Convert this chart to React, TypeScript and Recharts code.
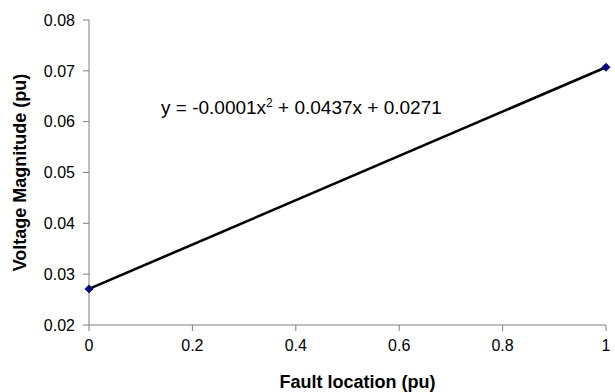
import { Line, LineChart, XAxis, YAxis } from "recharts";

const faultLocation = [0, 1];
const voltageMagnitude = [0.0271, 0.0707];
const xTicks = [0, 0.2, 0.4, 0.6, 0.8, 1];
const yTicks = [0.02, 0.03, 0.04, 0.05, 0.06, 0.07, 0.08];

const data = faultLocation.map((x, i) => ({ x, y: voltageMagnitude[i] }));

const font = "'Liberation Sans', Arial, sans-serif";

function Diamond(props: any) {
  const { cx, cy } = props;
  if (cx == null || cy == null) return null;
  const r = 4;
  return (
    <path
      d={`M${cx},${cy - r} L${cx + r},${cy} L${cx},${cy + r} L${cx - r},${cy} Z`}
      fill="#0a0a80"
      stroke="#0a0a80"
    />
  );
}

export default function App() {
  return (
    <div style={{ position: "absolute", left: 0, top: 0, width: 615, height: 392, background: "#fff", fontFamily: font }}>
      <LineChart width={615} height={392} data={data} margin={{ top: 20, right: 9, bottom: 0, left: 0 }}>
        <XAxis
          dataKey="x"
          type="number"
          domain={[0, 1]}
          ticks={xTicks}
          tickFormatter={(v: number) => String(v)}
          height={67}
          stroke="#7f7f7f"
          tickSize={6}
          tick={{ fill: "#000", fontSize: 16, fontFamily: font }}
          tickMargin={9}
          label={{ value: "Fault location (pu)", position: "insideBottom", offset: 4, dx: 10, fill: "#000", fontSize: 18, fontWeight: "bold", fontFamily: font }}
        />
        <YAxis
          type="number"
          domain={[0.02, 0.08]}
          ticks={yTicks}
          tickFormatter={(v: number) => v.toFixed(2)}
          width={89}
          stroke="#7f7f7f"
          tickSize={6}
          tick={{ fill: "#000", fontSize: 16, fontFamily: font }}
          tickMargin={8}
          label={{ value: "Voltage Magnitude (pu)", angle: -90, position: "insideLeft", offset: 20, style: { textAnchor: "middle" }, fill: "#000", fontSize: 18, fontWeight: "bold", fontFamily: font }}
        />
        <Line
          dataKey="y"
          type="linear"
          stroke="#000"
          strokeWidth={2.6}
          dot={<Diamond />}
          activeDot={false}
          isAnimationActive={false}
        />
      </LineChart>
      <div style={{ position: "absolute", left: 161, top: 98, fontSize: 19, lineHeight: 1, color: "#000", whiteSpace: "nowrap" }}>
        y = -0.0001x<sup style={{ fontSize: 12, lineHeight: 0 }}>2</sup> + 0.0437x + 0.0271
      </div>
    </div>
  );
}
